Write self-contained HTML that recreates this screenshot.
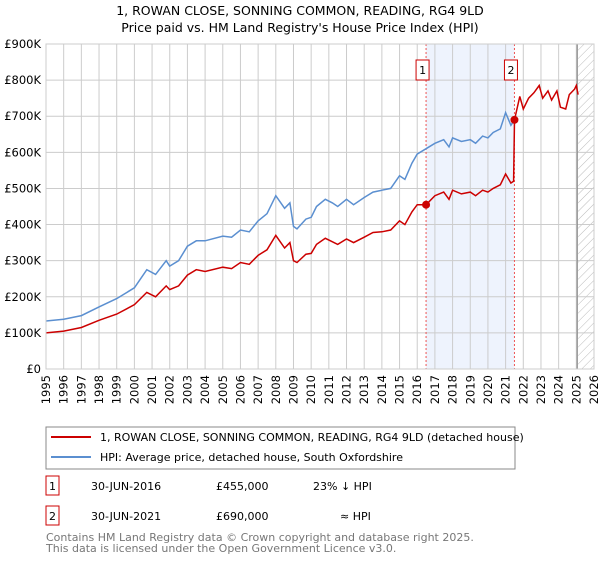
<!DOCTYPE html>
<html><head><meta charset="utf-8"><style>
body{margin:0;background:#fff;font-family:"Liberation Sans","DejaVu Sans",sans-serif;}
svg text{font-family:"DejaVu Sans","Liberation Sans",sans-serif;}
</style></head><body>
<svg width="600" height="560" viewBox="0 0 600 560" xmlns="http://www.w3.org/2000/svg">
<defs><pattern id="hatch" width="6" height="6" patternUnits="userSpaceOnUse" patternTransform="rotate(45)"><line x1="0" y1="0" x2="0" y2="6" stroke="#bbb" stroke-width="1"/></pattern></defs>
<text x="300" y="15" font-size="12.5" text-anchor="middle">1, ROWAN CLOSE, SONNING COMMON, READING, RG4 9LD</text>
<text x="300" y="32" font-size="12.5" text-anchor="middle">Price paid vs. HM Land Registry's House Price Index (HPI)</text>
<g id="plot"></g>
<g>
<rect x="46" y="427" width="469" height="42" fill="#fff" stroke="#888"/>
<line x1="51" y1="437" x2="91" y2="437" stroke="#cc0000" stroke-width="2"/>
<text x="100" y="441" font-size="11">1, ROWAN CLOSE, SONNING COMMON, READING, RG4 9LD (detached house)</text>
<line x1="51" y1="457" x2="91" y2="457" stroke="#5b8fd0" stroke-width="2"/>
<text x="100" y="461" font-size="11">HPI: Average price, detached house, South Oxfordshire</text>
</g>
<g font-size="11">
<rect x="46" y="476" width="13" height="19" fill="#fff" stroke="#cc0000"/><text x="52.5" y="490" text-anchor="middle">1</text>
<text x="91" y="490">30-JUN-2016</text><text x="216" y="490">£455,000</text><text x="313" y="490">23% ↓ HPI</text>
<rect x="46" y="506" width="13" height="19" fill="#fff" stroke="#cc0000"/><text x="52.5" y="520" text-anchor="middle">2</text>
<text x="91" y="520">30-JUN-2021</text><text x="216" y="520">£690,000</text><text x="340" y="520">≈ HPI</text>
</g>
<text x="46" y="541" font-size="11" fill="#777">Contains HM Land Registry data © Crown copyright and database right 2025.</text>
<text x="46" y="552" font-size="11" fill="#777">This data is licensed under the Open Government Licence v3.0.</text>
</svg>
<script>
const hpiYears=[1995,1996,1997,1998,1999,2000,2000.7,2001.2,2001.8,2002,2002.5,2003,2003.5,2004,2005,2005.5,2006,2006.5,2007,2007.5,2008,2008.5,2008.8,2009,2009.2,2009.7,2010,2010.3,2010.8,2011.2,2011.5,2012,2012.4,2013,2013.5,2014,2014.5,2015,2015.3,2015.7,2016,2016.5,2017,2017.5,2017.8,2018,2018.5,2019,2019.3,2019.7,2020,2020.3,2020.7,2021,2021.3,2021.5];
const hpiValues=[133,138,148,172,195,225,275,262,300,285,300,340,355,355,368,365,385,380,410,430,480,445,460,395,388,415,420,450,470,460,450,470,455,475,490,495,500,535,525,570,595,610,625,635,615,640,630,635,625,645,640,655,665,710,675,690];
const propYears=[1995,1996,1997,1998,1999,2000,2000.7,2001.2,2001.8,2002,2002.5,2003,2003.5,2004,2005,2005.5,2006,2006.5,2007,2007.5,2008,2008.5,2008.8,2009,2009.2,2009.7,2010,2010.3,2010.8,2011.5,2012,2012.4,2013,2013.5,2014,2014.5,2015,2015.3,2015.7,2016,2016.5,2017,2017.5,2017.8,2018,2018.5,2019,2019.3,2019.7,2020,2020.3,2020.7,2021,2021.3,2021.45,2021.5,2021.8,2022,2022.3,2022.6,2022.9,2023.1,2023.4,2023.6,2023.9,2024.1,2024.4,2024.6,2024.9,2025.0,2025.1];
const propValues=[100,105,115,135,152,178,212,200,230,220,230,260,275,270,282,278,295,290,315,330,370,335,350,300,295,318,320,345,362,345,360,350,365,378,380,385,410,400,435,455,455,480,490,470,495,485,490,480,495,490,500,510,540,515,520,690,755,720,750,765,785,750,770,745,770,725,720,760,775,785,760];
const saleYears=[2016.5,2021.5];
const saleValues=[455,690];
const saleLabels=["1","2"];
const yTicks=[0,100,200,300,400,500,600,700,800,900];
const yTickLabels=["£0","£100K","£200K","£300K","£400K","£500K","£600K","£700K","£800K","£900K"];
const xStart=1995,xEnd=2026;
const L=46,R=594,T=44,B=369;
const X=y=>L+(y-xStart)/(xEnd-xStart)*(R-L);
const Y=v=>B-v/900*(B-T);
const NS="http://www.w3.org/2000/svg";
const g=document.getElementById('plot');
function mk(t,a,p){const e=document.createElementNS(NS,t);for(const k in a)e.setAttribute(k,a[k]);(p||g).appendChild(e);return e;}
let sh=mk('rect',{x:X(saleYears[0]),y:T,width:X(saleYears[1])-X(saleYears[0]),height:B-T,fill:'#eef3fd'});


let ht=mk('rect',{x:X(2025.1),y:T,width:R-X(2025.1),height:B-T,fill:'url(#hatch)'});


for(let i=0;i<yTicks.length;i++){
 const gl=mk('line',{x1:L,x2:R,y1:Y(yTicks[i]),y2:Y(yTicks[i]),stroke:'#ccc'});
 
 
 const t=mk('text',{x:L-5,y:Y(yTicks[i])+4,'font-size':11.5,'text-anchor':'end'});
 
 
 t.textContent=yTickLabels[i];
}
for(let yr=xStart;yr<=xEnd;yr++){
 const gl=mk('line',{x1:X(yr),x2:X(yr),y1:T,y2:B,stroke:'#ccc'});
 
 
 const t=mk('text',{x:0,y:0,'font-size':11.5,'text-anchor':'end',transform:`translate(${X(yr)+4},${B+6}) rotate(-90)`});
 
 
 t.textContent=yr;
}
let vl=mk('line',{x1:X(2025.05),x2:X(2025.05),y1:T,y2:B,stroke:'#888','stroke-width':1.2});


for(let i=0;i<saleYears.length;i++){
 const d=mk('line',{x1:X(saleYears[i]),x2:X(saleYears[i]),y1:T,y2:B,stroke:'#ee5555','stroke-dasharray':'2,2'});
 
 
}
function path(xs,vs,col,name){
 const p=mk('path',{d:xs.map((x,i)=>(i?'L':'M')+X(x).toFixed(1)+','+Y(vs[i]).toFixed(1)).join(''),fill:'none',stroke:col,'stroke-width':1.5});
 
 
}
path(hpiYears,hpiValues,'#5b8fd0','hpi-line');
path(propYears,propValues,'#cc0000','property-price-line');
for(let i=0;i<saleYears.length;i++){
 const c=mk('circle',{cx:X(saleYears[i]),cy:Y(saleValues[i]),r:4,fill:'#cc0000'});
 
 
 const bx=X(saleYears[i])-3.5;
 const r=mk('rect',{x:bx-6.5,y:60,width:13,height:20,fill:'#fff',stroke:'#cc0000'});
 
 
 const t=mk('text',{x:bx,y:74,'font-size':11,'text-anchor':'middle'});
 
 
 t.textContent=saleLabels[i];
}
let ax=mk('rect',{x:L,y:T,width:R-L,height:B-T,fill:'none',stroke:'#ccc'});


</script>
</body></html>
